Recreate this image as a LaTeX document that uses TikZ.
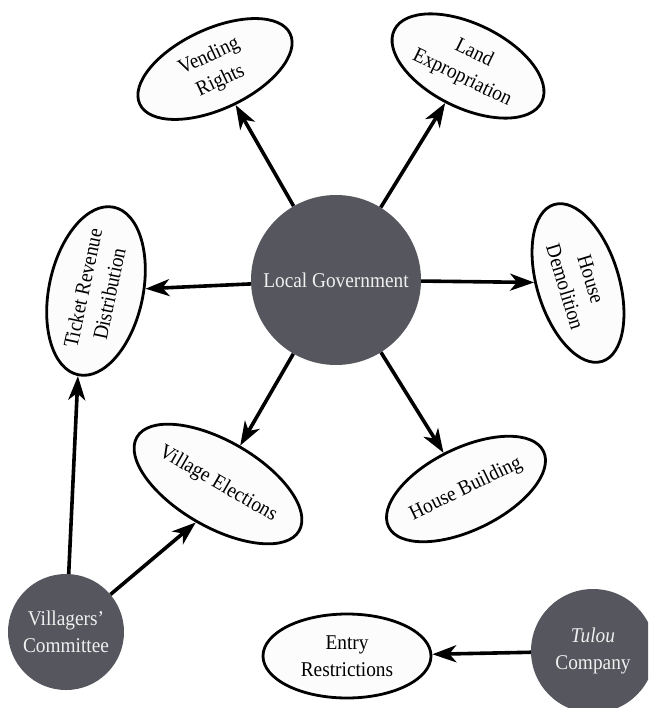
\documentclass[tikz,border=0pt]{standalone}
\usepackage{fontspec}
\setmainfont[FakeStretch=0.92]{Liberation Serif}
\usetikzlibrary{shapes.geometric,arrows.meta}
\definecolor{actor}{RGB}{86,86,94}
\definecolor{actortext}{RGB}{240,240,240}
\definecolor{issue}{RGB}{252,252,252}
\tikzset{
  actorcirc/.style={circle, fill=actor, draw=none, text=actortext, align=center,
    inner sep=0pt, font=\fontsize{21}{27}\selectfont},
  issueell/.style={ellipse, fill=issue, draw=black, line width=2.8pt, align=center,
    inner sep=0pt, font=\fontsize{21}{27}\selectfont},
  conn/.style={line width=3.6pt, -{Stealth[length=24pt,width=17pt,inset=7pt]}}
}
\begin{document}
\begin{tikzpicture}[x=1pt,y=-1pt]
\clip (0,0) rectangle (648,708);
\fill[white] (0,0) rectangle (648,708);

\node[actorcirc, minimum size=170pt] (LG) at (336,280) {Local Government};
\node[actorcirc, minimum size=116pt] (VC) at (66,632) {Villagers’\\Committee};
\node[actorcirc, minimum size=124pt] (TC) at (593,651) {\textit{Tulou}\\Company};

\node[issueell, rotate=25, minimum width=166pt, minimum height=80pt] (VR) at (215,69) {Vending\\Rights};
\node[issueell, rotate=-26, minimum width=164pt, minimum height=84pt] (LE) at (468,66) {Land\\Expropriation};
\node[issueell, rotate=-73, minimum width=164pt, minimum height=82pt] (HD) at (578,283) {House\\Demolition};
\node[issueell, rotate=78, minimum width=164pt, minimum height=94pt] (TR) at (96,291) {Ticket Revenue\\Distribution};
\node[issueell, rotate=-30, minimum width=170pt, minimum height=86pt] (VE) at (218,484) {Village Elections};
\node[issueell, rotate=26, minimum width=170pt, minimum height=82pt] (HB) at (466,489) {House Building};
\node[issueell, minimum width=168pt, minimum height=84pt] (ER) at (347,656) {Entry\\Restrictions};

\draw[conn] (LG) -- (VR);
\draw[conn] (LG) -- (LE);
\draw[conn] (LG) -- (HD);
\draw[conn] (LG) -- (TR);
\draw[conn] (LG) -- (VE);
\draw[conn] (LG) -- (HB);
\draw[conn] (VC) -- (TR.west);
\draw[conn] (VC) -- (VE.south);
\draw[conn] (TC) -- (ER);
\end{tikzpicture}
\end{document}
